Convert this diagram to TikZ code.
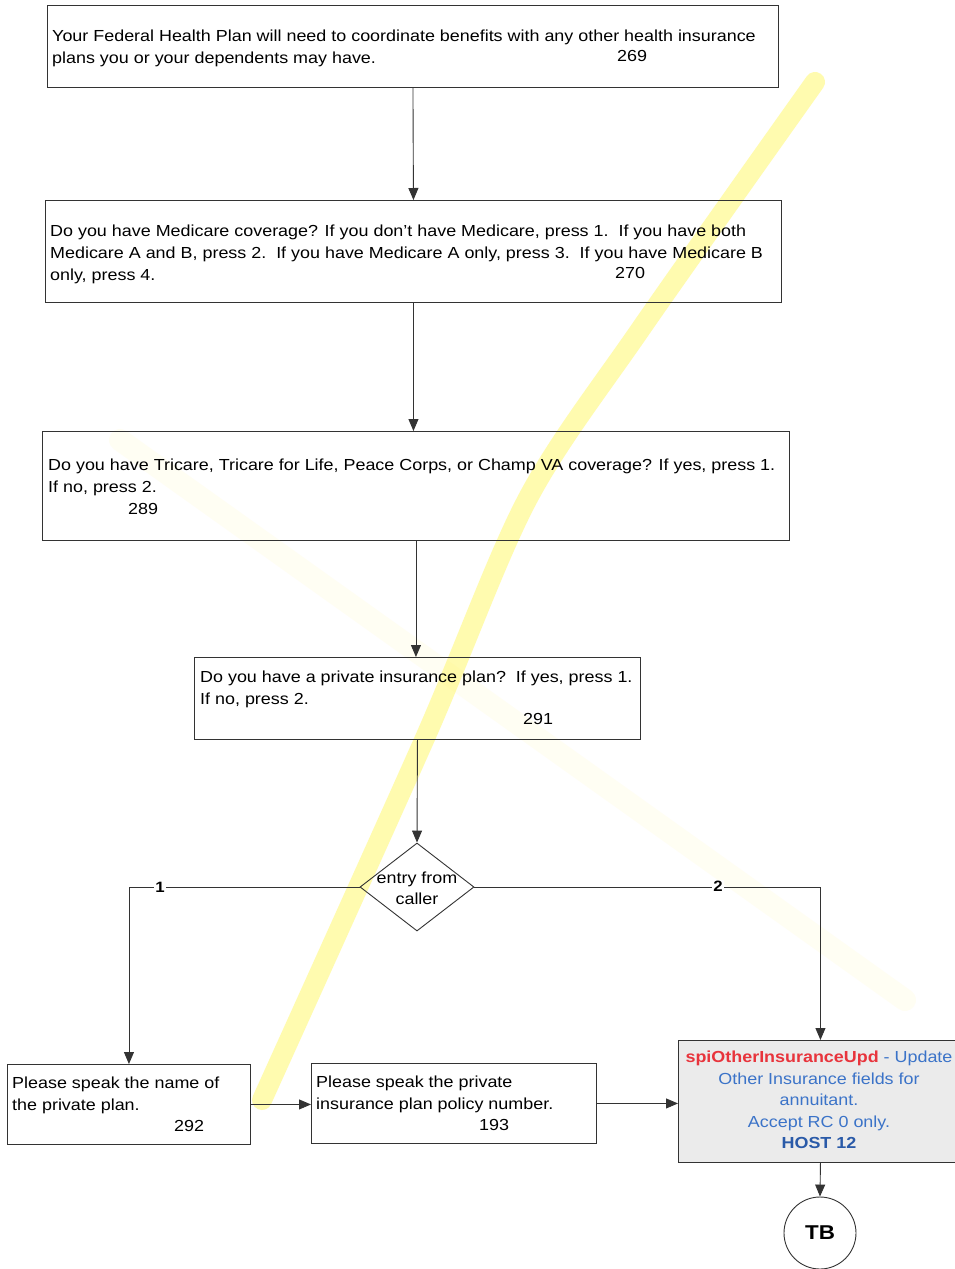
\documentclass[tikz,border=0pt]{standalone}
\usepackage{fontspec}
\setmainfont{Liberation Sans}[FakeStretch=1.12]
\usetikzlibrary{arrows.meta,shapes.geometric}
\definecolor{lineg}{HTML}{333333}
\definecolor{hiyel}{HTML}{FFF860}
\definecolor{spired}{HTML}{E8343C}
\definecolor{spiblue}{HTML}{3B73C8}
\definecolor{hostblue}{HTML}{2A5AA8}
\definecolor{boxgray}{HTML}{EBEBEB}
\begin{document}
\begin{tikzpicture}[x=1pt,y=-1pt,
  box/.style={draw=lineg, line width=0.9pt, inner sep=0pt, anchor=north west},
  txt/.style={anchor=base west, inner sep=0pt, align=left, font=\fontsize{16}{22}\selectfont},
  num/.style={anchor=base west, inner sep=0pt, font=\fontsize{16}{22}\selectfont},
  lab/.style={inner sep=1pt, fill=white, font=\bfseries\fontsize{15}{18}\selectfont},
  arr/.style={draw=lineg, line width=0.9pt, -{Triangle[length=12pt,width=10pt]}},
]
\useasboundingbox (0,0) rectangle (954,1269);
\fill[white] (0,0) rectangle (954,1269);

% highlighter strokes (scan)
\draw[hiyel, opacity=0.07, line width=22pt, line cap=round] (120,440) -- (905,1000);
\draw[hiyel, opacity=0.5, line width=20pt, line cap=round]
  plot[smooth] coordinates {(815,82) (640,330) (527,500) (425,738) (262,1100)};

% boxes
\node[box, minimum width=731pt, minimum height=82pt] (b1) at (47,5) {};
\node[txt] (t1) at (52,63) {Your Federal Health Plan will need to coordinate benefits with any other health insurance\\plans you or your dependents may have.};
\node[num] (n1) at (617,61) {269};

\node[box, minimum width=736pt, minimum height=102pt] (b2) at (45,200) {};
\node[txt] (t2) at (50,280) {Do you have Medicare coverage? If you don't have Medicare, press 1.\ \ If you have both\\Medicare A and B, press 2.\ \ If you have Medicare A only, press 3.\ \ If you have Medicare B\\only, press 4.};
\node[num] (n2) at (615,278) {270};

\node[box, minimum width=747pt, minimum height=109pt] (b3) at (42,431) {};
\node[txt] (t3) at (48,492) {Do you have Tricare, Tricare for Life, Peace Corps, or Champ VA coverage? If yes, press 1.\\If no, press 2.};
\node[num] (n3) at (128,514) {289};

\node[box, minimum width=446pt, minimum height=82pt] (b4) at (194,657) {};
\node[txt] (t4) at (200,704) {Do you have a private insurance plan?\ \ If yes, press 1.\\If no, press 2.};
\node[num] (n4) at (523,724) {291};

\node[diamond, draw=lineg, line width=0.9pt, minimum width=114pt, minimum height=88pt, inner sep=0pt] (d) at (417,887) {};
\node[align=center, inner sep=0pt, font=\fontsize{16}{21}\selectfont] (dt) at (417,888) {entry from\\caller};

\node[box, minimum width=243pt, minimum height=80pt] (b5) at (7,1064) {};
\node[txt] (t5) at (12,1110) {Please speak the name of\\the private plan.};
\node[num] (n5) at (174,1131) {292};

\node[box, minimum width=285pt, minimum height=80pt] (b6) at (311,1063) {};
\node[txt] (t6) at (316,1109) {Please speak the private\\insurance plan policy number.};
\node[num] (n6) at (479,1130) {193};

\node[box, fill=boxgray, minimum width=284pt, minimum height=122pt] (b7) at (678,1040) {};
\node[align=center, inner sep=0pt, text=spiblue, font=\fontsize{16}{21.5}\selectfont] (t7) at (819,1100)
  {\textcolor{spired}{\bfseries spiOtherInsuranceUpd} - Update\\Other Insurance fields for\\annuitant.\\Accept RC 0 only.\\\textcolor{hostblue}{\bfseries HOST 12}};

\node[circle, draw=lineg, line width=0.9pt, minimum size=72pt, inner sep=0pt, font=\bfseries\fontsize{20}{24}\selectfont] (tb) at (820,1233) {TB};

% connectors
\draw[arr] (b1.south) -- (b2.north);
\draw[arr] (b2.south) -- (b2.south |- b3.north);
\draw[arr] (b3.south) -- (b3.south |- b4.north);
\draw[arr] (b4.south) -- (d.north);
\draw[arr] (d.west) -| (b5.north);
\draw[arr] (d.east) -| (b7.north);
\draw[arr] (b5.east) -- (b5.east -| b6.west);
\draw[arr] (b6.east) -- (b6.east -| b7.west);
\draw[arr] (b7.south) -- (tb.north);

\node[lab] (l1) at (160,887) {1};
\node[lab] (l2) at (718,886) {2};
\end{tikzpicture}
\end{document}
